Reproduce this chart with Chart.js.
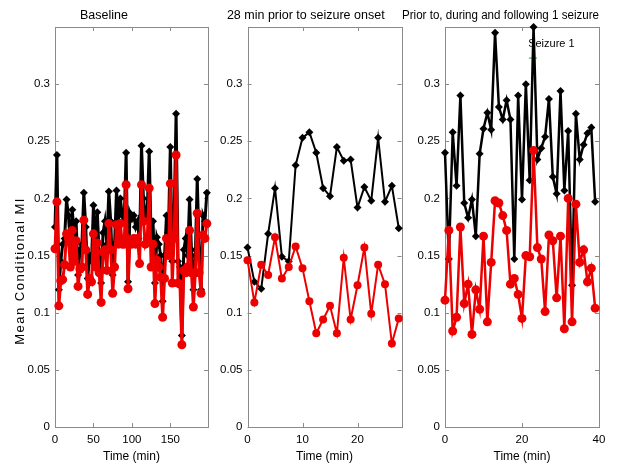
<!DOCTYPE html>
<html>
<head>
<meta charset="utf-8">
<script src="https://cdn.jsdelivr.net/npm/chart.js@4.4.1/dist/chart.umd.min.js"></script>
<style>
  html, body { margin: 0; padding: 0; background: #fff; }
  #wrap { position: relative; width: 642px; height: 466px; overflow: hidden; }
  #wrap canvas { position: absolute; top: 0; }
</style>
</head>
<body>
<div id="wrap">
  <canvas id="baseline" width="262" height="466" style="left:0px"></canvas>
  <canvas id="prior" width="227" height="466" style="left:210px"></canvas>
  <canvas id="seizure" width="240" height="466" style="left:402px"></canvas>
</div>
<script>
// Baseline panel, one value every 2.5 min
const baselineBlack = [
  0.175, 0.238, 0.120, 0.145, 0.160, 0.165, 0.199, 0.185, 0.160, 0.190,
  0.165, 0.180, 0.133, 0.155, 0.160, 0.205, 0.175, 0.130, 0.150, 0.145,
  0.194, 0.160, 0.188, 0.150, 0.126, 0.170, 0.180, 0.160, 0.206, 0.180,
  0.133, 0.160, 0.207, 0.180, 0.200, 0.185, 0.180, 0.240, 0.127, 0.187,
  0.182, 0.185, 0.175, 0.180, 0.160, 0.246, 0.200, 0.185, 0.190, 0.241,
  0.165, 0.180, 0.126, 0.166, 0.160, 0.150, 0.110, 0.150, 0.185, 0.170,
  0.245, 0.145, 0.185, 0.274, 0.145, 0.140, 0.080, 0.155, 0.165, 0.150,
  0.199, 0.155, 0.120, 0.150, 0.217, 0.155, 0.120, 0.185, 0.180, 0.205
];
const baselineRed = [
  0.156, 0.197, 0.106, 0.128, 0.129, 0.142, 0.169, 0.165, 0.140, 0.172,
  0.145, 0.163, 0.123, 0.138, 0.140, 0.181, 0.155, 0.116, 0.130, 0.127,
  0.169, 0.140, 0.161, 0.135, 0.109, 0.153, 0.155, 0.137, 0.178, 0.155,
  0.117, 0.140, 0.177, 0.160, 0.178, 0.160, 0.160, 0.212, 0.121, 0.164,
  0.160, 0.165, 0.160, 0.165, 0.143, 0.212, 0.180, 0.160, 0.165, 0.209,
  0.140, 0.160, 0.108, 0.146, 0.140, 0.131, 0.096, 0.130, 0.165, 0.150,
  0.213, 0.126, 0.165, 0.238, 0.126, 0.125, 0.072, 0.137, 0.135, 0.140,
  0.172, 0.135, 0.105, 0.135, 0.187, 0.135, 0.117, 0.168, 0.165, 0.178
];
const baselineStep = 2.5;

// 28 min prior to onset, one value every 1.25 min
const priorBlack = [
  0.157, 0.127, 0.121, 0.169, 0.209, 0.149, 0.145, 0.229, 0.253, 0.258,
  0.240, 0.209, 0.202, 0.245, 0.233, 0.234, 0.192, 0.210, 0.198, 0.253,
  0.197, 0.211, 0.174
];
const priorRed = [
  0.146, 0.109, 0.142, 0.133, 0.166, 0.130, 0.140, 0.158, 0.139, 0.110,
  0.082, 0.094, 0.106, 0.082, 0.148, 0.094, 0.124, 0.157, 0.099, 0.142,
  0.125, 0.073, 0.095
];
const priorStep = 1.25;

// around seizure 1, one value per minute
const seizureBlack = [
  0.240, 0.147, 0.258, 0.211, 0.290, 0.196, 0.183, 0.199, 0.167, 0.239,
  0.261, 0.275, 0.260, 0.345, 0.280, 0.269, 0.286, 0.269, 0.147, 0.290,
  0.199, 0.300, 0.216, 0.350, 0.234, 0.244, 0.254, 0.287, 0.219, 0.204,
  0.294, 0.207, 0.259, 0.124, 0.274, 0.234, 0.247, 0.257, 0.262, 0.197
];
const seizureRed = [
  0.111, 0.172, 0.084, 0.096, 0.175, 0.108, 0.125, 0.081, 0.120, 0.103,
  0.167, 0.092, 0.144, 0.198, 0.196, 0.185, 0.172, 0.125, 0.130, 0.116,
  0.095, 0.150, 0.149, 0.242, 0.157, 0.147, 0.101, 0.168, 0.163, 0.113,
  0.167, 0.086, 0.200, 0.092, 0.195, 0.144, 0.155, 0.127, 0.139, 0.104
];
const seizureStep = 1;
const seizureMarkX = [21.8, 23.9];
const seizureMarkY = [0.3228, 0.3228];

const yTicks = [0, 0.05, 0.1, 0.15, 0.2, 0.25, 0.3];
const baselineXTicks = [0, 50, 100, 150];
const priorXTicks = [0, 10, 20];
const seizureXTicks = [0, 20, 40];

const RED = 'rgb(236,0,0)';
const FRAME = '#8a8a8a';
const FONT = "'Liberation Sans', Arial, sans-serif";

// box round the plot with inward ticks, plus loose text
const matlabFrame = {
  id: 'matlabFrame',
  beforeDatasetsDraw(chart, args, opts) {
    const { ctx, chartArea: a, scales: { x, y } } = chart;
    ctx.save();
    ctx.strokeStyle = FRAME;
    ctx.lineWidth = 1;
    ctx.strokeRect(Math.round(a.left) + 0.5, Math.round(a.top) + 0.5,
      Math.round(a.right) - Math.round(a.left), Math.round(a.bottom) - Math.round(a.top));
    ctx.beginPath();
    x.ticks.forEach(t => {
      const px = Math.round(x.getPixelForValue(t.value)) + 0.5;
      ctx.moveTo(px, a.bottom); ctx.lineTo(px, a.bottom - 4);
      ctx.moveTo(px, a.top); ctx.lineTo(px, a.top + 4);
    });
    y.ticks.forEach(t => {
      const py = Math.round(y.getPixelForValue(t.value)) + 0.5;
      ctx.moveTo(a.left, py); ctx.lineTo(a.left + 4, py);
      ctx.moveTo(a.right, py); ctx.lineTo(a.right - 4, py);
    });
    ctx.stroke();
    ctx.restore();
  },
  afterDraw(chart, args, opts) {
    const { ctx, scales: { x, y } } = chart;
    ctx.save();
    ctx.fillStyle = '#000';
    if (opts.yLabel) {
      ctx.font = '13px ' + FONT;
      ctx.letterSpacing = '1.5px';
      ctx.translate(opts.yLabel.x, opts.yLabel.y);
      ctx.rotate(-Math.PI / 2);
      ctx.textAlign = 'center';
      ctx.textBaseline = 'middle';
      ctx.fillText(opts.yLabel.text, 0, 0);
      ctx.setTransform(1, 0, 0, 1, 0, 0);
      ctx.letterSpacing = '0px';
    }
    (opts.notes || []).forEach(n => {
      ctx.font = '11px ' + FONT;
      ctx.textAlign = 'left';
      ctx.textBaseline = 'middle';
      ctx.fillText(n.text, x.getPixelForValue(n.x), y.getPixelForValue(n.y));
    });
    ctx.restore();
  }
};

function series(values, step) {
  return values.map((v, i) => ({ x: i * step, y: v }));
}

function makePanel(id, cfg) {
  const datasets = [
    {
      data: series(cfg.red, cfg.step),
      borderColor: RED,
      backgroundColor: RED,
      borderWidth: cfg.lineWidth,
      pointStyle: 'circle',
      pointRadius: cfg.dotRadius,
      pointBorderWidth: 0,
      clip: false,
      order: 0
    },
    {
      data: series(cfg.black, cfg.step),
      borderColor: '#000',
      backgroundColor: '#000',
      borderWidth: cfg.lineWidth,
      pointStyle: 'rectRot',
      pointRadius: cfg.diamondRadius,
      pointBorderWidth: 0,
      clip: false,
      order: 1
    }
  ].concat(cfg.extra || []);

  new Chart(document.getElementById(id), {
    type: 'line',
    data: { datasets },
    options: {
      responsive: false,
      animation: false,
      layout: { padding: { left: 0, right: cfg.padRight, top: 0, bottom: 0 } },
      plugins: {
        legend: { display: false },
        tooltip: { enabled: false },
        title: {
          display: true,
          text: cfg.title,
          color: '#000',
          font: { family: FONT, size: 12.5, weight: 'normal', lineHeight: 1.2 },
          padding: { top: 8.5, bottom: 3.5 }
        },
        matlabFrame: { yLabel: cfg.yLabel, notes: cfg.notes }
      },
      scales: {
        x: {
          type: 'linear',
          min: 0,
          max: cfg.xMax,
          grid: { display: false, drawTicks: false },
          border: { display: false },
          afterBuildTicks: s => { s.ticks = cfg.xTicks.map(v => ({ value: v })); },
          afterFit: s => { s.height = 39; },
          ticks: { color: '#000', font: { family: FONT, size: 11.5 }, padding: 6, maxRotation: 0 },
          title: { display: true, text: 'Time (min)', color: '#000',
                   font: { family: FONT, size: 12 }, padding: { top: 0, bottom: 2 } }
        },
        y: {
          min: 0,
          max: 0.35,
          grid: { display: false, drawTicks: false },
          border: { display: false },
          afterBuildTicks: s => { s.ticks = yTicks.map(v => ({ value: v })); },
          afterFit: s => { s.width = cfg.axisWidth; },
          ticks: { color: '#000', font: { family: FONT, size: 11.5 }, padding: 5,
                   callback: v => String(Number(v.toFixed(2))) }
        }
      }
    },
    plugins: [matlabFrame]
  });
}

makePanel('baseline', {
  title: 'Baseline',
  black: baselineBlack, red: baselineRed, step: baselineStep,
  xMax: 199, xTicks: baselineXTicks,
  axisWidth: 55, padRight: 54,
  lineWidth: 3, dotRadius: 4.5, diamondRadius: 4,
  yLabel: { text: 'Mean Conditional MI', x: 20, y: 271 }
});

makePanel('prior', {
  title: '28 min prior to seizure onset',
  black: priorBlack, red: priorRed, step: priorStep,
  xMax: 28, xTicks: priorXTicks,
  axisWidth: 37.5, padRight: 35.5,
  lineWidth: 2, dotRadius: 4, diamondRadius: 4
});

makePanel('seizure', {
  title: 'Prior to, during and following 1 seizure',
  black: seizureBlack, red: seizureRed, step: seizureStep,
  xMax: 40, xTicks: seizureXTicks,
  axisWidth: 43, padRight: 43,
  lineWidth: 2.5, dotRadius: 4.5, diamondRadius: 4,
  notes: [{ text: 'Seizure 1', x: 21.6, y: 0.335 }],
  extra: [{
    data: seizureMarkX.map((v, i) => ({ x: v, y: seizureMarkY[i] })),
    borderColor: '#2ca02c',
    borderWidth: 1,
    pointRadius: 0,
    order: 2
  }]
});
</script>
</body>
</html>
